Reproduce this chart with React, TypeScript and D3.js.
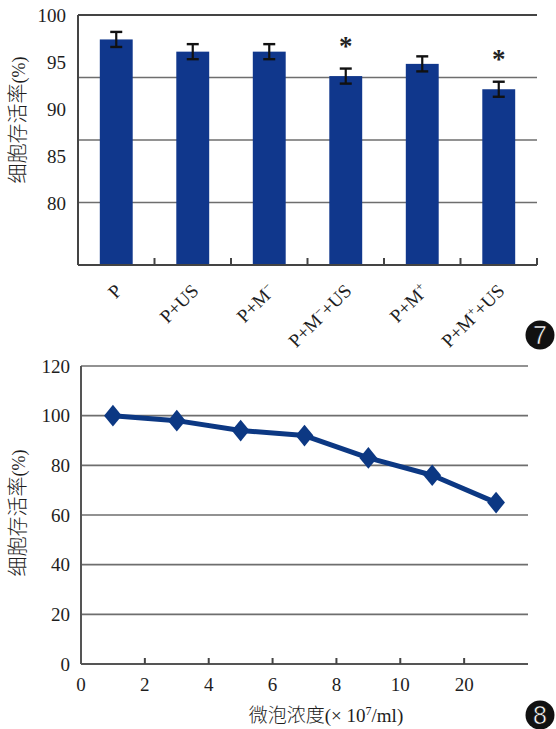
import React from "react";
import * as d3 from "d3";

// ---------- Figure 7 data (bar chart) ----------
const barCategories = ["P", "P+US", "P+M^-", "P+M^-+US", "P+M^+", "P+M^++US"];
const barValues = [97.4, 96.1, 96.1, 93.5, 94.8, 92.1];
const barErrors = [0.8, 0.8, 0.8, 0.8, 0.8, 0.8];
const barSignificant = [false, false, false, true, false, true];
const barYTicks = [80, 85, 90, 95, 100];
const barGridLevels = [1, 2, 3]; // internal horizontal grid bands (of 4)

// ---------- Figure 8 data (line chart) ----------
const concLabels = ["0", "2", "4", "6", "8", "10", "20"];
const survivalValues = [100, 98, 94, 92, 83, 76, 65];
const lineYTicks = [0, 20, 40, 60, 80, 100, 120];

const NAVY = "#10378c";
const LINE = "#0c3883";
const TEXT = "#1e1e1e";
const SERIF = "Liberation Serif, Times New Roman, DejaVu Serif, serif";
const CJK = "Noto Sans CJK SC, Noto Sans CJK JP, sans-serif";
const serif = (size: number) => ({ fontFamily: SERIF, fontSize: size });
const cjk = (size: number) => ({ fontFamily: CJK, fontSize: size });

function parseLabel(s: string) {
  const parts: { t: string; sup?: boolean }[] = [];
  let i = 0;
  let buf = "";
  while (i < s.length) {
    if (s[i] === "^") {
      if (buf) parts.push({ t: buf });
      buf = "";
      parts.push({ t: s[i + 1] === "-" ? "−" : s[i + 1], sup: true });
      i += 2;
    } else {
      buf += s[i];
      i++;
    }
  }
  if (buf) parts.push({ t: buf });
  return parts;
}

function YTitle({ cx, cy }: { cx: number; cy: number }) {
  return (
    <text transform={`translate(${cx},${cy}) rotate(-90)`} textAnchor="middle" fill={TEXT}>
      <tspan style={cjk(20)} fontWeight={300}>细胞存活率</tspan>
      <tspan style={serif(18)}>(%)</tspan>
    </text>
  );
}

function Badge({ cx, cy, label }: { cx: number; cy: number; label: string }) {
  return (
    <g>
      <circle cx={cx} cy={cy} r={14.5} fill="#111" />
      <text
        x={cx}
        y={cy}
        dy="0.36em"
        textAnchor="middle"
        style={{ fontFamily: "Liberation Sans, Arial, sans-serif", fontSize: 25 }}
        fill="#fff"
        stroke="#111"
        strokeWidth={0.6}
      >
        {label}
      </text>
    </g>
  );
}

function BarChart() {
  const left = 78, right = 537, top = 15, bottom = 265;
  const x = d3.scaleBand<string>().domain(barCategories).range([left, right]).paddingInner(0.57).paddingOuter(0.285);
  const y = d3.scaleLinear().domain([73.4, 100]).range([bottom, top]);
  const grid = d3.scaleLinear().domain([0, 4]).range([bottom, top]);
  const step = x.step();
  const boundaries = d3.range(1, barCategories.length + 1).map((i) => left + i * step);

  return (
    <g>
      {barGridLevels.map((g) => (
        <line key={g} x1={left} x2={right} y1={grid(g)} y2={grid(g)} stroke="#6e6e6e" strokeWidth={1.5} />
      ))}
      <line x1={left} x2={right} y1={grid(4)} y2={grid(4)} stroke="#444" strokeWidth={2} />
      {barCategories.map((c, i) => {
        const bx = x(c)!;
        const cx = bx + x.bandwidth() / 2;
        const v = barValues[i];
        const eTop = y(v + barErrors[i]);
        const eBot = y(v - barErrors[i]);
        return (
          <g key={c}>
            <rect x={bx} y={y(v)} width={x.bandwidth()} height={bottom - y(v)} fill={NAVY} />
            <line x1={cx} x2={cx} y1={eTop} y2={eBot} stroke="#111" strokeWidth={2.2} />
            <line x1={cx - 6} x2={cx + 6} y1={eTop} y2={eTop} stroke="#111" strokeWidth={2.4} />
            <line x1={cx - 6} x2={cx + 6} y1={eBot} y2={eBot} stroke="#111" strokeWidth={2.4} />
            {barSignificant[i] && (
              <text x={cx} y={eTop - 14} textAnchor="middle" style={serif(27)} fontWeight={700} fill="#222">
                *
              </text>
            )}
          </g>
        );
      })}
      <line x1={left} x2={left} y1={top} y2={bottom} stroke="#444" strokeWidth={2} />
      <line x1={left} x2={right} y1={bottom} y2={bottom} stroke="#444" strokeWidth={2} />
      {boundaries.map((bx, i) => (
        <line key={i} x1={bx} x2={bx} y1={bottom} y2={bottom - 7} stroke="#444" strokeWidth={2} />
      ))}
      {barYTicks.map((t) => (
        <text key={t} x={66} y={y(t)} dy="0.35em" textAnchor="end" style={serif(19)} fill={TEXT}>
          {t}
        </text>
      ))}
      {barCategories.map((c) => {
        const cx = x(c)! + x.bandwidth() / 2;
        const ex = cx + 7;
        const ey = 292;
        return (
          <text key={c} x={ex} y={ey} textAnchor="end" transform={`rotate(-45, ${ex}, ${ey})`} style={serif(19)} fill={TEXT}>
            {parseLabel(c).map((p, k) =>
              p.sup ? (
                <tspan key={k} style={{ fontSize: 12 }} baselineShift="super">
                  {p.t}
                </tspan>
              ) : (
                <tspan key={k}>{p.t}</tspan>
              )
            )}
          </text>
        );
      })}
      <YTitle cx={25} cy={120} />
      <Badge cx={540} cy={335} label="7" />
    </g>
  );
}

function LineChart() {
  const left = 81, right = 528, top = 366, bottom = 664;
  const x = d3.scaleLinear().domain([0, 7]).range([left, right]);
  const y = d3.scaleLinear().domain([0, 120]).range([bottom, top]);
  const pts: [number, number][] = survivalValues.map((v, i) => [x(i + 0.5), y(v)]);
  const line = d3.line<[number, number]>().x((d) => d[0]).y((d) => d[1])(pts)!;
  const diamond = d3.symbol().type(d3.symbolDiamond2).size(300)()!;

  return (
    <g>
      {lineYTicks.filter((t) => t > 0).map((t) => (
        <line key={t} x1={left} x2={right} y1={y(t)} y2={y(t)} stroke="#6e6e6e" strokeWidth={1.6} />
      ))}
      <line x1={left} x2={left} y1={top} y2={bottom} stroke="#555" strokeWidth={2} />
      <line x1={left} x2={right} y1={bottom} y2={bottom} stroke="#555" strokeWidth={2} />
      {d3.range(1, concLabels.length).map((i) => (
        <line key={i} x1={x(i)} x2={x(i)} y1={bottom} y2={bottom - 6} stroke="#444" strokeWidth={2} />
      ))}
      {lineYTicks.map((t) => (
        <text key={t} x={70} y={y(t)} dy="0.35em" textAnchor="end" style={serif(19)} fill={TEXT}>
          {t}
        </text>
      ))}
      {concLabels.map((l, i) => (
        <text key={l} x={x(i)} y={691} textAnchor="middle" style={serif(19)} fill={TEXT}>
          {l}
        </text>
      ))}
      <path d={line} fill="none" stroke={LINE} strokeWidth={5} strokeLinejoin="round" />
      {pts.map((p, i) => (
        <path key={i} d={diamond} transform={`translate(${p[0]},${p[1]}) scale(0.82,1)`} fill={LINE} />
      ))}
      <YTitle cx={25} cy={513} />
      <text x={326} y={722} textAnchor="middle" fill={TEXT}>
        <tspan style={cjk(19)} fontWeight={300}>微泡浓度</tspan>
        <tspan style={serif(19)}>(× 10</tspan>
        <tspan style={serif(12)} baselineShift="super">7</tspan>
        <tspan style={serif(19)}>/ml)</tspan>
      </text>
      <Badge cx={540} cy={715} label="8" />
    </g>
  );
}

export default function App() {
  return (
    <svg width={556} height={729} viewBox="0 0 556 729" style={{ position: "absolute", left: 0, top: 0, background: "#fff" }}>
      <rect width={556} height={729} fill="#fff" />
      <BarChart />
      <LineChart />
    </svg>
  );
}
